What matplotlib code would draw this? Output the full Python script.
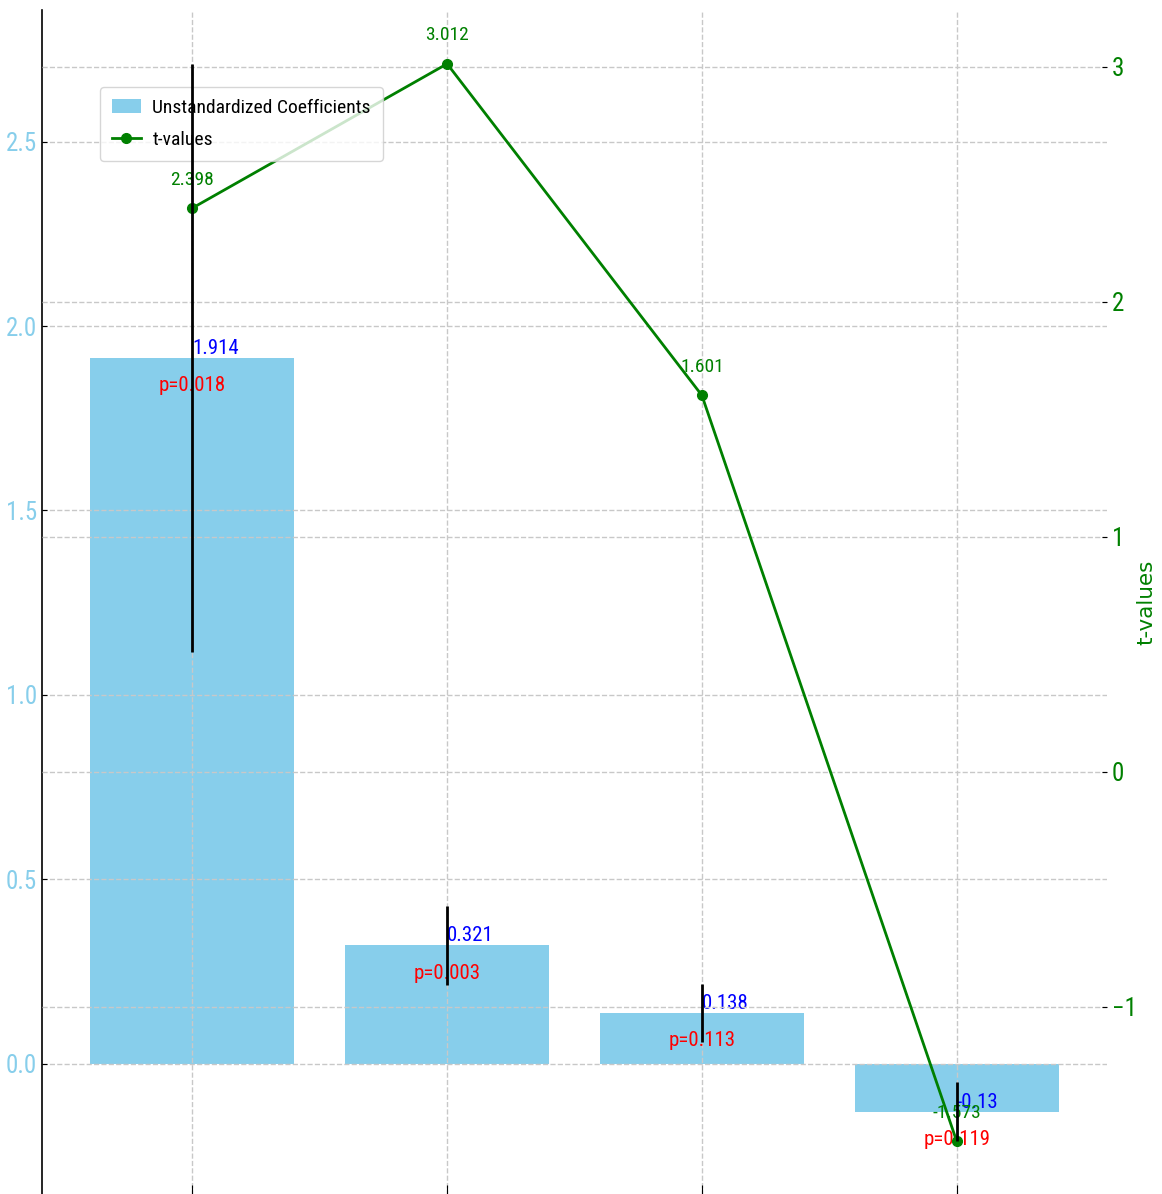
import numpy as np
import matplotlib
matplotlib.use("Agg")
import matplotlib.pyplot as plt
import matplotlib.font_manager as fm

# values
coefs = [1.914, 0.321, 0.138, -0.13]
coef_err = [0.797, 0.107, 0.079, 0.08]
t_values = [2.398, 3.012, 1.601, -1.573]
p_values = [0.018, 0.003, 0.113, 0.119]


# _______________________________________________________________________________
def pick_font():
    names = {f.name for f in fm.fontManager.ttflist}
    for cand in ["Roboto Condensed", "Liberation Sans Narrow", "Open Sans Condensed",
                 "Noto Sans Condensed"]:
        if cand in names:
            return cand
    return "DejaVu Sans"


plt.rcParams["font.family"] = [pick_font(), "DejaVu Sans"]

W, H = 1162, 1194
fig = plt.figure(figsize=(W / 100, H / 100), dpi=100)
ax = fig.add_axes([42 / W, -1 / H, (1107 - 42) / W, (1195 - 10) / H])
ax2 = ax.twinx()

x = np.arange(len(coefs))
ax.bar(x, coefs, width=0.8, color="skyblue", label="Unstandardized Coefficients")
ax2.plot(x, t_values, color="green", marker="o", markersize=7, linewidth=2,
         label="t-values", zorder=2)
# error bars sit above the legend, like the reference
lo = np.array(coefs) - np.array(coef_err)
hi = np.array(coefs) + np.array(coef_err)
ax2.vlines(x, lo, hi, colors="black", linewidth=2, transform=ax.transData, zorder=6)

for xi, c, p in zip(x, coefs, p_values):
    ax.text(xi, c, f"{c}", color="blue", ha="left", va="bottom", fontsize=15, zorder=4)
    ax.text(xi, c - 0.05, f"p={p:.3f}", color="red", ha="center", va="top", fontsize=15, zorder=4)
for xi, t in zip(x, t_values):
    ax2.annotate(f"{t}", (xi, t), xytext=(0, 14), textcoords="offset points",
                 color="green", ha="center", va="bottom", fontsize=14)

ax.set_xlim(-0.59, 3.59)
ax.set_ylim(-0.356, 2.857)
ax2.set_ylim(-1.802, 3.241)
ax.set_xticks(x)
ax.set_xticklabels([])
ax.set_yticks([0.0, 0.5, 1.0, 1.5, 2.0, 2.5])
ax2.set_yticks([-1, 0, 1, 2, 3])

ax.grid(True, linestyle="--", color="#c8c8c8", linewidth=1)
ax2.grid(True, axis="y", linestyle="--", color="#c8c8c8", linewidth=1)

for s in ["top", "right", "bottom"]:
    ax.spines[s].set_visible(False)
for s in ["top", "right", "bottom", "left"]:
    ax2.spines[s].set_visible(False)
ax.spines["left"].set_linewidth(1.2)

ax.tick_params(axis="y", direction="in", labelcolor="skyblue", labelsize=18)
ax.tick_params(axis="x", direction="in", length=7)
ax2.tick_params(axis="y", direction="in", labelcolor="green", labelsize=18)
ax2.set_ylabel("t-values", color="green", fontsize=15.5, family="DejaVu Sans", labelpad=0)

h1, l1 = ax.get_legend_handles_labels()
h2, l2 = ax2.get_legend_handles_labels()
leg = ax2.legend(h1 + h2, l1 + l2, loc="upper left", fontsize=14, borderaxespad=0,
                 borderpad=0.6, handlelength=1.5, handletextpad=0.6, labelspacing=0.75,
                 bbox_to_anchor=((100 - 42) / (1107 - 42), 1 - (87 - 10) / (1195 - 10)))
leg.set_zorder(5)

fig.savefig("out.png", dpi=100)
